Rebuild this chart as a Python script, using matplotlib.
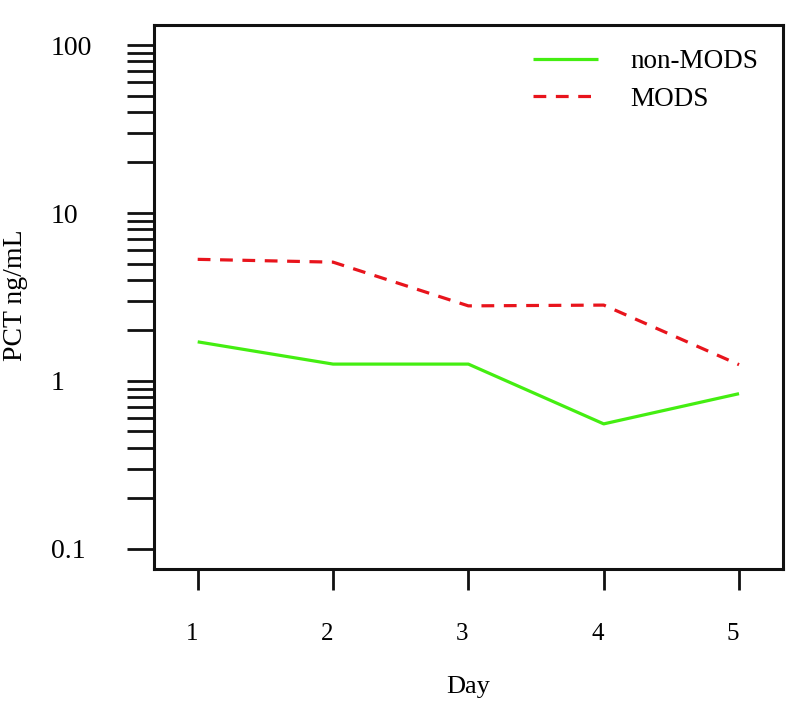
import matplotlib
matplotlib.use("Agg")
import matplotlib.pyplot as plt
from matplotlib.ticker import FixedLocator, NullFormatter
from matplotlib.transforms import ScaledTranslation
import numpy as np

days = [1, 2, 3, 4, 5]
non_mods = [1.71, 1.26, 1.26, 0.555, 0.84]
mods = [5.3, 5.1, 2.8, 2.83, 1.25]
series_labels = ["non-MODS", "MODS"]
y_major = [0.1, 1, 10, 100]
y_major_labels = ["0.1", "1", "10", "100"]
x_label = "Day"
y_label = "PCT ng/mL"

plt.rcParams['font.family'] = ['Liberation Serif', 'DejaVu Serif']

fig = plt.figure(figsize=(8.1, 7.16), dpi=100)
ax = fig.add_axes([0.1901, 0.2053, 0.9667 - 0.1901, 0.9651 - 0.2053])

ax.plot(days, non_mods, color='#44ee11', lw=2.3, label=series_labels[0], solid_capstyle='butt')
ax.plot(days, mods, color='#e8141c', lw=2.3, dashes=(4, 3), label=series_labels[1], dash_capstyle='butt')

ax.set_yscale('log')
ax.set_ylim(10 ** -1.12, 10 ** 2.12)
ax.set_xlim(0.677, 5.325)

ax.yaxis.set_major_locator(FixedLocator(y_major))
ax.set_yticklabels(y_major_labels)
minors = [m * d for d in [0.1, 1, 10] for m in range(2, 10)]
ax.yaxis.set_minor_locator(FixedLocator(minors))
ax.yaxis.set_minor_formatter(NullFormatter())

ax.set_xticks(days)
ax.set_xticklabels([str(d) for d in days])

for s in ax.spines.values():
    s.set_linewidth(2.2)
    s.set_color('#111111')

ax.tick_params(axis='y', which='both', direction='out', length=19.5, width=2.0,
               color='#111111', labelsize=20, pad=55)
ax.tick_params(axis='x', which='major', direction='out', length=15, width=2.0,
               color='#111111', labelsize=18, pad=24)
for t in ax.get_yticklabels():
    t.set_ha('left')
shift = ScaledTranslation(-6 / 100, 0, fig.dpi_scale_trans)
for t in ax.get_xticklabels():
    t.set_transform(t.get_transform() + shift)

ax.set_xlabel(x_label, fontsize=19, labelpad=22)
ax.set_ylabel(y_label, fontsize=20)
ax.yaxis.label.set_ha('center')
ax.yaxis.label.set_va('center')
ax.yaxis.set_label_coords(-0.22, 0.504)

leg = ax.legend(loc='upper left', bbox_to_anchor=(0.6025, 0.955), frameon=False,
                fontsize=19.5, handlelength=2.4, handletextpad=1.2,
                labelspacing=0.45, borderpad=0, borderaxespad=0)

fig.savefig('out.png', dpi=100)
